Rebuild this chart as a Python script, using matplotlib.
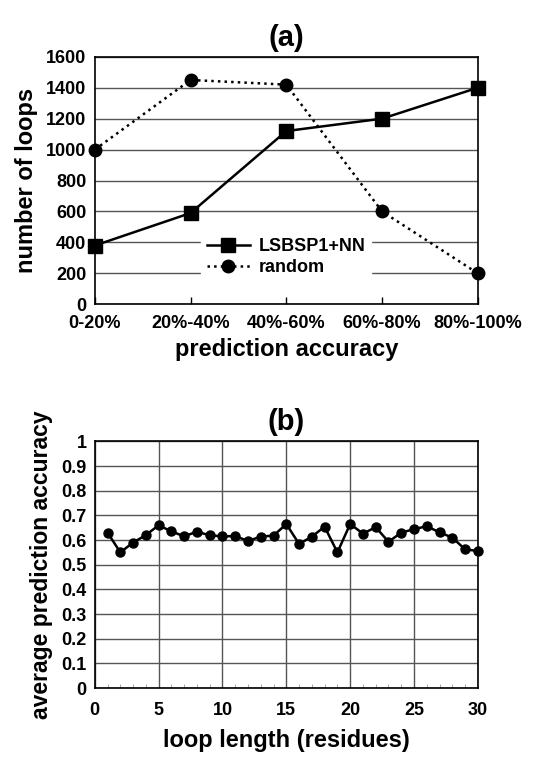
import matplotlib.pyplot as plt
from matplotlib.ticker import MultipleLocator

plt.rcParams['font.family'] = ['Liberation Sans', 'DejaVu Sans']
plt.rcParams['font.weight'] = 'bold'
plt.rcParams['axes.labelweight'] = 'bold'
plt.rcParams['axes.titleweight'] = 'bold'

# panel (a)
accuracy_bins = ['0-20%', '20%-40%', '40%-60%', '60%-80%', '80%-100%']
lsbsp1_nn = [380, 590, 1120, 1200, 1400]
random_loops = [1000, 1450, 1420, 600, 200]

# panel (b)
loop_length = list(range(1, 31))
avg_accuracy = [0.63, 0.55, 0.59, 0.62, 0.66, 0.635, 0.615, 0.634, 0.619, 0.615,
                0.616, 0.596, 0.614, 0.618, 0.665, 0.584, 0.614, 0.654, 0.55, 0.665,
                0.626, 0.652, 0.593, 0.63, 0.644, 0.656, 0.631, 0.61, 0.562, 0.556]
y_labels_b = ['0', '0.1', '0.2', '0.3', '0.4', '0.5', '0.6', '0.7', '0.8', '0.9', '1']

fig = plt.figure(figsize=(5.48, 7.57), dpi=100)

ax1 = fig.add_axes([0.173, 0.598, 0.699, 0.327])
x = range(len(accuracy_bins))
ax1.plot(x, lsbsp1_nn, color='black', lw=1.8, marker='s', markersize=10,
         label='LSBSP1+NN', zorder=3, clip_on=False)
ax1.plot(x, random_loops, color='black', lw=1.8, ls=':', marker='o', markersize=9,
         label='random', zorder=3, clip_on=False)
ax1.set_xlim(0, 4)
ax1.set_ylim(0, 1600)
ax1.set_xticks(list(x))
ax1.set_xticklabels(accuracy_bins)
ax1.yaxis.set_major_locator(MultipleLocator(200))
ax1.grid(axis='y', color='#555555', lw=1)
ax1.tick_params(axis='x', direction='in', length=5, width=1, labelsize=13, pad=8)
ax1.tick_params(axis='y', length=0, labelsize=13, pad=6)
ax1.set_xlabel('prediction accuracy', fontsize=17, fontweight='bold', labelpad=4)
ax1.set_ylabel('number of loops', fontsize=17, fontweight='bold', labelpad=6)
ax1.set_title('(a)', fontsize=21, fontweight='bold', pad=8)
leg = ax1.legend(loc='center', bbox_to_anchor=(0.5, 0.19), frameon=True,
                 fontsize=13, handlelength=2.4, handletextpad=0.5,
                 borderpad=0.3, labelspacing=0.2)
leg.get_frame().set_edgecolor('white')
leg.get_frame().set_facecolor('white')
leg.get_frame().set_alpha(1)
for s in ax1.spines.values():
    s.set_linewidth(1.2)

ax2 = fig.add_axes([0.173, 0.091, 0.699, 0.326])
ax2.plot(loop_length, avg_accuracy, color='black', lw=1.8, marker='o',
         markersize=6.5, zorder=3, clip_on=False)
ax2.set_xlim(0, 30)
ax2.set_ylim(0, 1)
ax2.xaxis.set_major_locator(MultipleLocator(5))
ax2.xaxis.set_minor_locator(MultipleLocator(1))
ax2.set_yticks([i / 10 for i in range(11)])
ax2.set_yticklabels(y_labels_b)
ax2.grid(which='major', color='#555555', lw=1)
ax2.tick_params(axis='x', which='major', length=0, labelsize=13, pad=10)
ax2.tick_params(axis='x', which='minor', direction='in', length=3, color='#999999')
ax2.tick_params(axis='y', length=0, labelsize=13, pad=6)
ax2.set_xlabel('loop length (residues)', fontsize=17, fontweight='bold', labelpad=7)
ax2.set_ylabel('average prediction accuracy', fontsize=16.5, fontweight='bold', labelpad=6)
ax2.set_title('(b)', fontsize=21, fontweight='bold', pad=8)
for s in ax2.spines.values():
    s.set_linewidth(1.2)

fig.savefig('out.png', dpi=100)
